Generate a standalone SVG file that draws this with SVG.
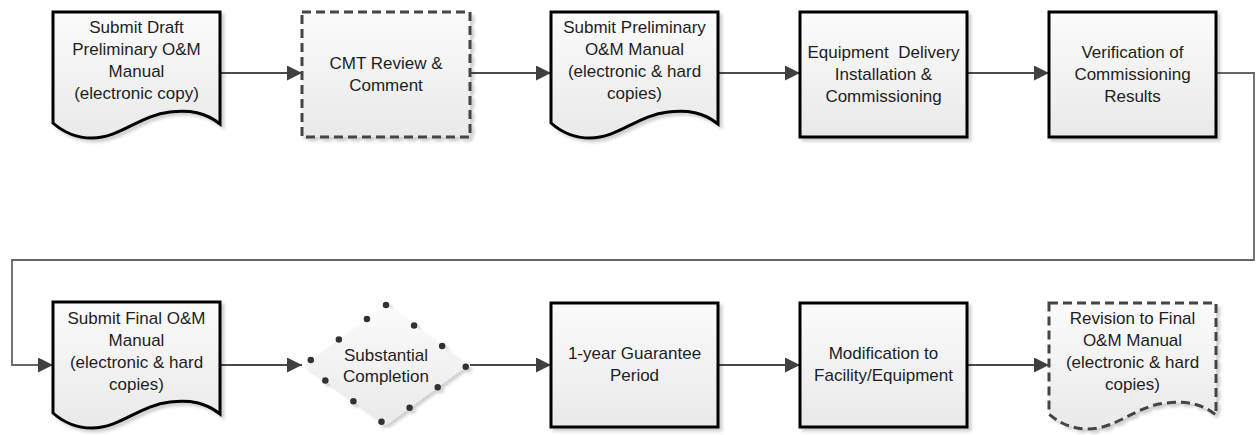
<svg xmlns="http://www.w3.org/2000/svg" width="1256" height="435" viewBox="0 0 1256 435">
<defs>
<linearGradient id="g" x1="0" y1="0" x2="0" y2="1">
<stop offset="0" stop-color="#fbfbfb"/>
<stop offset="1" stop-color="#e9e9e9"/>
</linearGradient>
<filter id="sh" x="-10%" y="-10%" width="125%" height="125%">
<feDropShadow dx="3" dy="3" stdDeviation="1.5" flood-color="#000" flood-opacity="0.18"/>
</filter>
<marker id="ah" markerUnits="userSpaceOnUse" markerWidth="16" markerHeight="16" refX="15" refY="7.5" orient="auto">
<path d="M0,0 L15,7.5 L0,15 Z" fill="#404040"/>
</marker>
<path id="doc" d="M0,0 H167 V112 C152,100 137,98 117,100 C87,103 67,126 39,126 C22,126 9,119 0,111 Z"/>
</defs>
<style>
.solid{fill:url(#g);stroke:#000;stroke-width:3;stroke-linejoin:miter;filter:url(#sh)}
.dash{fill:url(#g);stroke:#454545;stroke-width:3;stroke-dasharray:9 5;filter:url(#sh)}
.dot{fill:url(#g);stroke:#333;stroke-width:6.5;stroke-linecap:round;stroke-dasharray:0 34.8;filter:url(#sh)}
.t{font-family:"Liberation Sans",Arial,sans-serif;font-size:17px;fill:#1e1e1e;text-anchor:middle}
.c{fill:none;stroke:#4a4a4a;stroke-width:2;marker-end:url(#ah)}
.lc{fill:none;stroke:#666;stroke-width:1.8;marker-end:url(#ah)}
</style>

<g id="connectors">
<path class="c" d="M220,73 H302"/>
<path class="c" d="M470,73 H551"/>
<path class="c" d="M718,73 H800"/>
<path class="c" d="M967,73 H1049"/>
<path class="lc" d="M1216,73 H1254 V260 H12 V365 H53"/>
<path class="c" d="M220,365 H302"/>
<path class="c" d="M470,365 H551"/>
<path class="c" d="M718,365 H800"/>
<path class="c" d="M967,365 H1049"/>
</g>

<g id="n1">
<use href="#doc" class="solid" transform="translate(53,12)"/>
<text class="t"><tspan x="136.5" y="33">Submit Draft</tspan><tspan x="136.5" y="55">Preliminary O&amp;M</tspan><tspan x="136.5" y="77">Manual</tspan><tspan x="136.5" y="99">(electronic copy)</tspan></text>
</g>

<g id="n2">
<rect class="dash" x="302" y="12" width="168" height="125"/>
<text class="t"><tspan x="386" y="69">CMT Review &amp;</tspan><tspan x="386" y="91">Comment</tspan></text>
</g>

<g id="n3">
<use href="#doc" class="solid" transform="translate(551,12)"/>
<text class="t"><tspan x="634.5" y="33">Submit Preliminary</tspan><tspan x="634.5" y="55">O&amp;M Manual</tspan><tspan x="634.5" y="77">(electronic &amp; hard</tspan><tspan x="634.5" y="99">copies)</tspan></text>
</g>

<g id="n4">
<rect class="solid" x="800" y="12" width="167" height="125"/>
<text class="t"><tspan x="883.5" y="58">Equipment&#160; Delivery</tspan><tspan x="883.5" y="80">Installation &amp;</tspan><tspan x="883.5" y="102">Commissioning</tspan></text>
</g>

<g id="n5">
<rect class="solid" x="1049" y="12" width="167" height="125"/>
<text class="t"><tspan x="1132.5" y="58">Verification of</tspan><tspan x="1132.5" y="80">Commissioning</tspan><tspan x="1132.5" y="102">Results</tspan></text>
</g>

<g id="n6">
<use href="#doc" class="solid" transform="translate(53,302)"/>
<text class="t"><tspan x="136.5" y="324">Submit Final O&amp;M</tspan><tspan x="136.5" y="346">Manual</tspan><tspan x="136.5" y="368">(electronic &amp; hard</tspan><tspan x="136.5" y="390">copies)</tspan></text>
</g>

<g id="n7">
<path class="dot" d="M386,305 L468,365 L386,425 L304,365 Z"/>
<text class="t"><tspan x="386" y="361">Substantial</tspan><tspan x="386" y="382">Completion</tspan></text>
</g>

<g id="n8">
<rect class="solid" x="551" y="303" width="167" height="124"/>
<text class="t"><tspan x="634.5" y="359">1-year Guarantee</tspan><tspan x="634.5" y="381">Period</tspan></text>
</g>

<g id="n9">
<rect class="solid" x="800" y="303" width="167" height="124"/>
<text class="t"><tspan x="883.5" y="359">Modification to</tspan><tspan x="883.5" y="381">Facility/Equipment</tspan></text>
</g>

<g id="n10">
<use href="#doc" class="dash" transform="translate(1049,303)"/>
<text class="t"><tspan x="1132.5" y="324">Revision to Final</tspan><tspan x="1132.5" y="346">O&amp;M Manual</tspan><tspan x="1132.5" y="368">(electronic &amp; hard</tspan><tspan x="1132.5" y="390">copies)</tspan></text>
</g>
</svg>
